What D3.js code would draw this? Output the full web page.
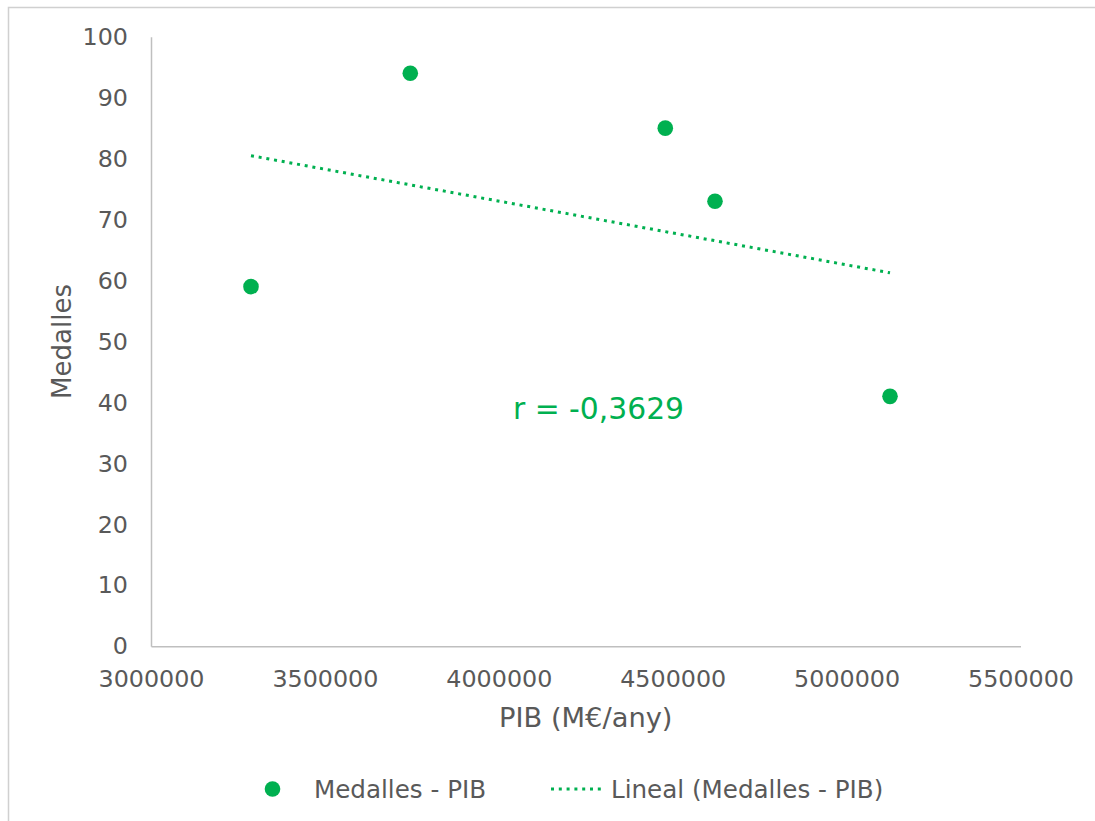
<!DOCTYPE html>
<html>
<head>
<meta charset="utf-8">
<script src="https://cdn.jsdelivr.net/npm/d3@7"></script>
<style>
  html, body { margin: 0; padding: 0; background: #fff; }
  svg { display: block; font-family: "DejaVu Sans", Verdana, sans-serif; }
</style>
</head>
<body>
<svg id="chart" width="1095" height="821"></svg>
<script>
// ---- data ----
const pib = [3287500, 3745500, 4478700, 4621600, 5124800];
const medalles = [59, 94, 85, 73, 41];
const xTicks = [3000000, 3500000, 4000000, 4500000, 5000000, 5500000];
const yTicks = [0, 10, 20, 30, 40, 50, 60, 70, 80, 90, 100];
const seriesName = "Medalles - PIB";
const trendName = "Lineal (Medalles - PIB)";
const xTitle = "PIB (M€/any)";
const yTitle = "Medalles";
const rLabel = "r = -0,3629";

const green = "#00B050";
const textColor = "#595959";
const axisColor = "#BFBFBF";

const svg = d3.select("#chart");

// chart border (left/top visible)
svg.append("rect").attr("x", 8.5).attr("y", 7.5).attr("width", 1200).attr("height", 1000)
  .attr("fill", "none").attr("stroke", "#D0D0D0").attr("stroke-width", 1.5);

const x = d3.scaleLinear().domain([3000000, 5500000]).range([151, 1020.5]);
const y = d3.scaleLinear().domain([0, 100]).range([646.3, 36.7]);

// axes
const xAxis = d3.axisBottom(x).tickValues(xTicks).tickFormat(d3.format("d")).tickSize(0).tickPadding(24);
const yAxis = d3.axisLeft(y).tickValues(yTicks).tickFormat(d3.format("d")).tickSize(0).tickPadding(23);

const gx = svg.append("g").attr("transform", `translate(0,${y(0)})`).call(xAxis);
const gy = svg.append("g").attr("transform", `translate(${x(3000000)},0)`).call(yAxis);
[gx, gy].forEach(g => {
  g.select(".domain").attr("stroke", axisColor).attr("stroke-width", 1.5);
  g.selectAll("text").attr("fill", textColor).attr("font-size", "23.8px")
    .attr("font-family", "DejaVu Sans, Verdana, sans-serif");
});
gx.selectAll("text").attr("dy", "0.71em");

// trendline (least squares)
const n = pib.length;
const mx = d3.mean(pib), my = d3.mean(medalles);
let sxy = 0, sxx = 0;
for (let i = 0; i < n; i++) {
  sxy += (pib[i] - mx) * (medalles[i] - my);
  sxx += (pib[i] - mx) ** 2;
}
const slope = sxy / sxx, icpt = my - slope * mx;
const xMin = d3.min(pib), xMax = d3.max(pib);
const trend = [[xMin, icpt + slope * xMin], [xMax, icpt + slope * xMax]];

svg.append("path")
  .attr("d", d3.line().x(d => x(d[0])).y(d => y(d[1]))(trend))
  .attr("fill", "none").attr("stroke", green).attr("stroke-width", 3)
  .attr("stroke-dasharray", "3 4.8");

// points
svg.append("g").selectAll("circle").data(pib).join("circle")
  .attr("cx", (d) => x(d)).attr("cy", (d, i) => y(medalles[i]))
  .attr("r", 7.8).attr("fill", green);

// r annotation
svg.append("text").attr("x", 598.5).attr("y", 418.5).attr("text-anchor", "middle")
  .attr("fill", green).attr("font-size", "29.8px")
  .text(rLabel);

// axis titles
svg.append("text").attr("x", (x.range()[0] + x.range()[1]) / 2).attr("y", 727)
  .attr("text-anchor", "middle").attr("fill", textColor).attr("font-size", "27.3px").text(xTitle);
svg.append("text").attr("transform", `translate(71,${(y.range()[0] + y.range()[1]) / 2}) rotate(-90)`)
  .attr("text-anchor", "middle").attr("fill", textColor).attr("font-size", "26px").text(yTitle);

// legend
const ly = 789;
svg.append("circle").attr("cx", 272.5).attr("cy", ly).attr("r", 7.8).attr("fill", green);
svg.append("text").attr("x", 314).attr("y", ly).attr("dy", "0.35em").attr("fill", textColor)
  .attr("font-size", "24.6px").text(seriesName);
svg.append("line").attr("x1", 551).attr("x2", 605).attr("y1", ly).attr("y2", ly)
  .attr("stroke", green).attr("stroke-width", 3).attr("stroke-dasharray", "3 4.8");
svg.append("text").attr("x", 611).attr("y", ly).attr("dy", "0.35em").attr("fill", textColor)
  .attr("font-size", "24.6px").text(trendName);
</script>
</body>
</html>
